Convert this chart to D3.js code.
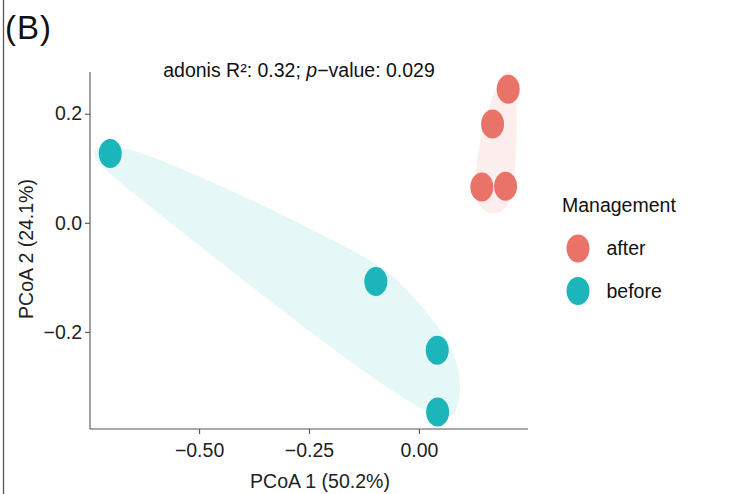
<!DOCTYPE html>
<html>
<head>
<meta charset="utf-8">
<script src="https://cdn.jsdelivr.net/npm/d3@7"></script>
<style>
  html, body { margin: 0; padding: 0; background: #fff; }
  svg { display: block; font-family: "Liberation Sans", Arial, sans-serif; }
</style>
</head>
<body>
<svg id="chart" width="755" height="494"></svg>
<script>
// ---- data ----
const groups = ["after", "before"];
const groupColors = ["#EA7369", "#1CB5B9"];
const hullFills = ["#FCEEEC", "#E6F7F7"];
const afterX = [0.203, 0.1675, 0.143, 0.197];
const afterY = [0.245, 0.181, 0.0655, 0.067];
const beforeX = [-0.702, -0.098, 0.0416, 0.0425];
const beforeY = [0.127, -0.1076, -0.2336, -0.347];
const xTicks = [-0.5, -0.25, 0];
const yTicks = [-0.2, 0, 0.2];
const xDomain = [-0.748, 0.248];
const yDomain = [-0.378, 0.2765];
const titleText = "adonis R²: 0.32; ";
const titleP = "p";
const titleRest = "−value: 0.029";
const xLabel = "PCoA 1 (50.2%)";
const yLabel = "PCoA 2 (24.1%)";
const legendTitle = "Management";
const panelLabel = "(B)";

// ---- layout ----
const svg = d3.select("#chart");
const P = { left: 90, right: 528, top: 72, bottom: 429 };
const x = d3.scaleLinear().domain(xDomain).range([P.left, P.right]);
const y = d3.scaleLinear().domain(yDomain).range([P.bottom, P.top]);
const FS = 19.5;

// left figure border line
svg.append("line").attr("x1", 3.5).attr("x2", 3.5).attr("y1", 0).attr("y2", 494)
  .attr("stroke", "#555").attr("stroke-width", 1.3);

svg.append("text").attr("x", 5).attr("y", 39).attr("font-size", 33)
  .attr("letter-spacing", 1).attr("fill", "#111").text(panelLabel);

svg.append("defs").append("clipPath").attr("id", "panelClip")
  .append("rect").attr("x", P.left).attr("y", P.top)
  .attr("width", P.right - P.left).attr("height", P.bottom - P.top);

const series = [
  afterX.map((v, i) => ({ x: v, y: afterY[i] })),
  beforeX.map((v, i) => ({ x: v, y: beforeY[i] }))
];

// hulls (expanded, smoothed convex hull)
const hullPadX = [10, 24];
const hullPadY = [28, 22];
const hullG = svg.append("g").attr("clip-path", "url(#panelClip)");
series.forEach((pts, gi) => {
  const px = pts.map(p => [x(p.x), y(p.y)]);
  const ex = hullPadX[gi], ey = hullPadY[gi];
  const expanded = [];
  px.forEach(([a, b]) => {
    expanded.push([a + ex, b], [a - ex, b], [a, b + ey], [a, b - ey]);
  });
  const hull = d3.polygonHull(expanded);
  hullG.append("path")
    .attr("d", d3.line().curve(d3.curveBasisClosed)(hull))
    .attr("fill", hullFills[gi]).attr("stroke", "none");
});

// points
const ptG = svg.append("g");
series.forEach((pts, gi) => {
  ptG.selectAll(null).data(pts).enter().append("ellipse")
    .attr("cx", d => x(d.x)).attr("cy", d => y(d.y))
    .attr("rx", 11.5).attr("ry", 14.5)
    .attr("fill", groupColors[gi]);
});

// axes
const axisColor = "#555";
const xAxis = svg.append("g").attr("transform", `translate(0,${P.bottom})`)
  .call(d3.axisBottom(x).tickValues(xTicks).tickSize(5).tickPadding(9).tickFormat(d3.format(".2f")));
const yAxis = svg.append("g").attr("transform", `translate(${P.left},0)`)
  .call(d3.axisLeft(y).tickValues(yTicks).tickSize(5).tickPadding(3).tickFormat(d3.format(".1f")));
[xAxis, yAxis].forEach(a => {
  a.select(".domain").attr("stroke", axisColor).attr("stroke-width", 1.1);
  a.selectAll(".tick line").attr("stroke", axisColor).attr("stroke-width", 1.1);
  a.selectAll(".tick text").attr("fill", "#222").attr("font-size", FS)
    .attr("font-family", "Liberation Sans, Arial, sans-serif");
});
xAxis.select(".domain").attr("d", `M${P.left},0H${P.right}`);
yAxis.select(".domain").attr("d", `M0,${P.top}V${P.bottom}`);

// title
const t = svg.append("text").attr("x", 299).attr("y", 76.5).attr("text-anchor", "middle")
  .attr("font-size", FS).attr("fill", "#111");
t.append("tspan").text(titleText);
t.append("tspan").attr("font-style", "italic").text(titleP);
t.append("tspan").text(titleRest);

// axis titles
svg.append("text").attr("x", (P.left + P.right) / 2 + 11).attr("y", 488)
  .attr("text-anchor", "middle").attr("font-size", FS).attr("fill", "#222").text(xLabel);
svg.append("text").attr("transform", `translate(33,${249}) rotate(-90)`)
  .attr("text-anchor", "middle").attr("font-size", FS).attr("fill", "#222").text(yLabel);

// legend
const lg = svg.append("g");
lg.append("text").attr("x", 562).attr("y", 211.5).attr("font-size", FS).attr("fill", "#111").text(legendTitle);
groups.forEach((g, i) => {
  const cy = 248.5 + i * 42.5;
  lg.append("ellipse").attr("cx", 578).attr("cy", cy).attr("rx", 11.5).attr("ry", 14)
    .attr("fill", groupColors[i]);
  lg.append("text").attr("x", 606.5).attr("y", cy).attr("dy", "0.35em")
    .attr("font-size", FS).attr("fill", "#111").text(g);
});
</script>
</body>
</html>
